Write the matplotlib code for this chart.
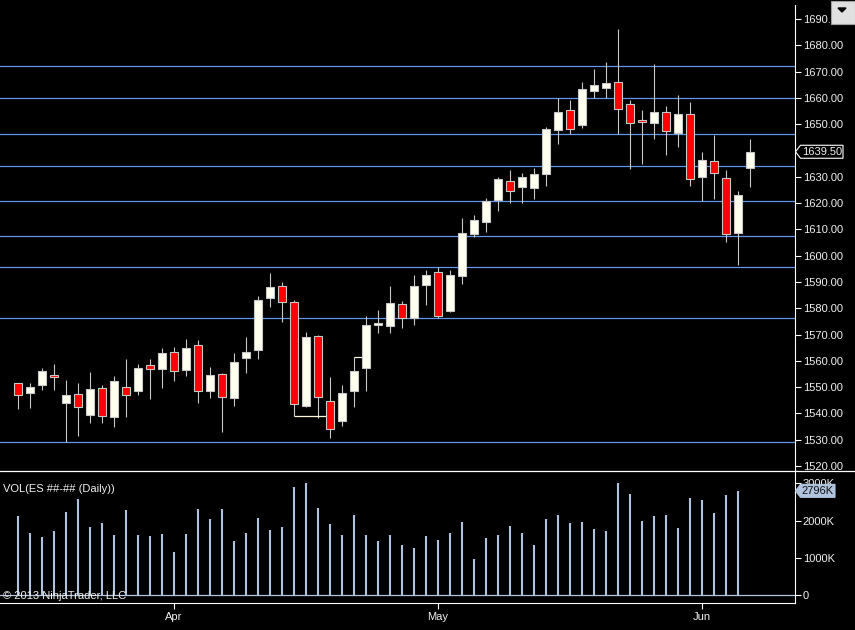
import matplotlib
matplotlib.use("Agg")
import matplotlib.pyplot as plt
from matplotlib.patches import Polygon, Rectangle
from matplotlib.lines import Line2D
from matplotlib.transforms import IdentityTransform
from matplotlib.ticker import FuncFormatter

plt.rcParams['font.family'] = ['Liberation Sans', 'DejaVu Sans']

# daily ES bars, mid March to early June 2013
opens = [1551.5, 1547.7, 1550.7, 1554.5, 1544.1, 1547.3, 1539.3, 1549.6, 1538.6, 1550.0,
         1548.4, 1558.3, 1556.8, 1563.3, 1556.4, 1565.9, 1548.4, 1554.9, 1545.8, 1561.0,
         1564.0, 1583.8, 1588.4, 1582.3, 1542.7, 1569.4, 1544.6, 1537.0, 1548.4, 1557.2,
         1573.5, 1573.2, 1581.5, 1576.2, 1588.7, 1593.7, 1579.1, 1592.4, 1608.4, 1612.7,
         1621.1, 1628.3, 1626.0, 1625.6, 1631.0, 1647.7, 1655.3, 1649.6, 1662.5, 1663.7,
         1665.9, 1657.6, 1651.5, 1650.3, 1654.5, 1646.5, 1653.8, 1629.8, 1635.9, 1629.4,
         1608.5, 1633.2]
highs = [1551.5, 1551.5, 1557.3, 1558.8, 1552.7, 1551.5, 1555.8, 1550.7, 1554.3, 1560.7,
         1558.8, 1560.7, 1564.9, 1565.3, 1568.3, 1567.9, 1557.7, 1555.4, 1563.0, 1569.1,
         1584.6, 1593.4, 1590.0, 1583.0, 1571.0, 1569.8, 1553.9, 1550.7, 1561.4, 1577.1,
         1579.4, 1588.5, 1582.8, 1592.7, 1594.6, 1595.6, 1594.6, 1614.3, 1615.5, 1621.9,
         1629.9, 1632.6, 1631.3, 1633.2, 1648.8, 1659.8, 1659.1, 1665.9, 1670.9, 1673.5,
         1686.1, 1659.1, 1655.3, 1672.8, 1656.8, 1661.0, 1658.3, 1639.3, 1645.8, 1632.5,
         1624.5, 1644.3]
lows = [1541.8, 1542.1, 1548.9, 1548.9, 1529.2, 1531.4, 1536.5, 1536.5, 1535.0, 1538.8,
        1546.9, 1545.6, 1549.8, 1552.5, 1554.4, 1544.1, 1546.0, 1533.1, 1543.0, 1555.5,
        1560.8, 1580.6, 1574.9, 1539.0, 1542.4, 1538.2, 1530.8, 1535.4, 1542.6, 1548.7,
        1570.7, 1570.7, 1572.6, 1573.8, 1581.4, 1576.2, 1578.7, 1589.4, 1607.2, 1609.0,
        1617.1, 1620.2, 1620.2, 1621.7, 1626.6, 1642.6, 1646.2, 1648.4, 1659.8, 1659.8,
        1646.4, 1632.9, 1634.8, 1644.3, 1638.2, 1641.2, 1626.4, 1620.9, 1621.7, 1605.3,
        1596.6, 1626.0]
closes = [1546.9, 1550.0, 1556.0, 1553.8, 1546.9, 1542.4, 1549.2, 1538.9, 1552.2, 1546.9,
          1557.2, 1556.8, 1562.9, 1556.0, 1564.8, 1548.4, 1554.5, 1546.2, 1559.5, 1563.3,
          1583.0, 1588.0, 1582.3, 1543.5, 1568.9, 1546.2, 1534.0, 1547.7, 1556.0, 1573.5,
          1574.3, 1581.9, 1576.4, 1588.4, 1592.5, 1577.2, 1592.5, 1608.5, 1613.5, 1620.7,
          1629.1, 1624.5, 1629.8, 1631.0, 1648.1, 1654.5, 1648.1, 1663.3, 1664.8, 1665.6,
          1655.7, 1650.3, 1650.7, 1654.5, 1647.3, 1653.8, 1629.1, 1636.3, 1631.3, 1608.1,
          1623.0, 1639.5]
# volume in thousands of contracts (no bar yet for the last session)
volume = [2120, 1670, 1560, 1720, 2230, 2570, 1830, 1930, 1610, 2280,
          1610, 1590, 1640, 1160, 1640, 2310, 2040, 2310, 1450, 1670,
          2070, 1750, 1830, 2900, 3000, 2330, 1910, 1610, 2150, 1610,
          1450, 1610, 1350, 1260, 1590, 1480, 1670, 1960, 970, 1530,
          1610, 1850, 1670, 1350, 2040, 2150, 1930, 1960, 1770, 1720,
          3000, 2710, 1990, 2120, 2150, 1800, 2600, 2550, 2200, 2680,
          2796]
month_pos = [13, 35, 57]
month_labels = ['Apr', 'May', 'Jun']
levels = [1672.0, 1659.8, 1646.2, 1634.0, 1620.7, 1607.4, 1595.6, 1576.2, 1529.0]
# (start bar, end bar, price) of the two little marker segments
marks = [(23, 25.67, 1539.0), (28, 28.67, 1561.4)]

fg = '#F0F0F0'
wick_c = '#C8C8C8'
vol_c = '#B0C4DE'

fig = plt.figure(figsize=(8.55, 6.3), dpi=100, facecolor='black')
ax = fig.add_axes([0, 1 - 470 / 630, 795 / 855, 465 / 630])
axv = fig.add_axes([0, 1 - 603 / 630, 795 / 855, 131 / 630], sharex=ax)

for a in (ax, axv):
    a.set_facecolor('black')
    for s in ('left', 'top', 'bottom'):
        a.spines[s].set_visible(False)
    a.spines['right'].set_color('white')
    a.yaxis.tick_right()
    a.tick_params(axis='y', colors='white', labelcolor=fg, labelsize=8,
                  length=4.5, width=0.8, pad=1)

n = len(opens)
idx = list(range(n))

# support / resistance lines
for lv in levels:
    ax.axhline(lv, color='#6495ED', lw=0.9, zorder=1)

# candles
ups = [c >= o for o, c in zip(opens, closes)]
ax.vlines(idx, lows, highs, color=wick_c, lw=0.8, zorder=2)
bottoms = [min(o, c) for o, c in zip(opens, closes)]
heights = [max(abs(c - o), 0.4) for o, c in zip(opens, closes)]
colors = ['#FFFFF0' if u else '#FF0000' for u in ups]
ax.bar(idx, heights, bottom=bottoms, width=0.66, color=colors,
       edgecolor=wick_c, linewidth=0.8, zorder=3)

for x0, x1, p in marks:
    ax.hlines(p, x0, x1, color='#FFF8E0', lw=0.9, zorder=2)

ax.set_xlim(-1.475, 64.78)
ax.set_ylim(1518.5, 1695.3)
ax.set_yticks(range(1520, 1700, 10))
ax.yaxis.set_major_formatter(FuncFormatter(lambda v, p: f"{v:.2f}"))
ax.tick_params(axis='x', bottom=False, labelbottom=False)

# volume panel
axv.vlines(range(len(volume)), 0, volume, color=vol_c, lw=1.5, zorder=2)
axv.axhline(0, color=vol_c, lw=0.9, zorder=2)
axv.set_ylim(-206, 3300)
axv.set_yticks([0, 1000, 2000, 3000])
axv.yaxis.set_major_formatter(FuncFormatter(lambda v, p: f"{v:.0f}K" if v else "0"))
axv.spines['bottom'].set_visible(True)
axv.spines['bottom'].set_color('white')
axv.set_xticks(month_pos)
axv.set_xticklabels(month_labels)
axv.tick_params(axis='x', colors='white', labelcolor=fg, labelsize=8,
                length=4, width=0.8, pad=2.5)

axv.text(0.004, 0.87, 'VOL(ES ##-## (Daily))', transform=axv.transAxes,
         color=fg, fontsize=8, va='center', ha='left')
axv.text(0.004, 0.055, '\u00a9 2013 NinjaTrader, LLC', transform=axv.transAxes,
         color=fg, fontsize=8, va='center', ha='left', zorder=5)

# separator between panels
fig.add_artist(Line2D([0, 1], [1 - 471 / 630] * 2, color='white', lw=0.9,
                      transform=fig.transFigure))


def value_tag(a, value, text, face, edge, tcol, width):
    y = a.transData.transform((0, value))[1]
    x0 = a.transAxes.transform((1, 0))[0]
    h = 6.5
    pts = [(x0 + 0.5, y), (x0 + 5.5, y + h), (x0 + width, y + h),
           (x0 + width, y - h), (x0 + 5.5, y - h)]
    fig.add_artist(Polygon(pts, closed=True, fc=face, ec=edge, lw=0.8,
                           transform=IdentityTransform(), zorder=10))
    fig.text(x0 + 5.5 + (width - 5.5) / 2, y, text, transform=IdentityTransform(),
             color=tcol, fontsize=8, ha='center', va='center', zorder=11)


value_tag(ax, closes[-1], f"{closes[-1]:.2f}", 'black', 'white', fg, 48)
value_tag(axv, volume[-1], f"{volume[-1]}K", vol_c, vol_c, '#101010', 40)

# little dropdown button in the corner
W, H = fig.get_size_inches() * fig.dpi
fig.add_artist(Rectangle((W - 24, H - 24), 23.5, 23.5, fc='#E0E0E0', ec='#A0A0A0',
                         lw=0.8, transform=IdentityTransform(), zorder=12))
fig.add_artist(Polygon([(W - 17, H - 8), (W - 9, H - 8), (W - 13, H - 12)],
                       closed=True, fc='black', ec='black',
                       transform=IdentityTransform(), zorder=13))

fig.savefig('out.png', dpi=100, facecolor='black')
